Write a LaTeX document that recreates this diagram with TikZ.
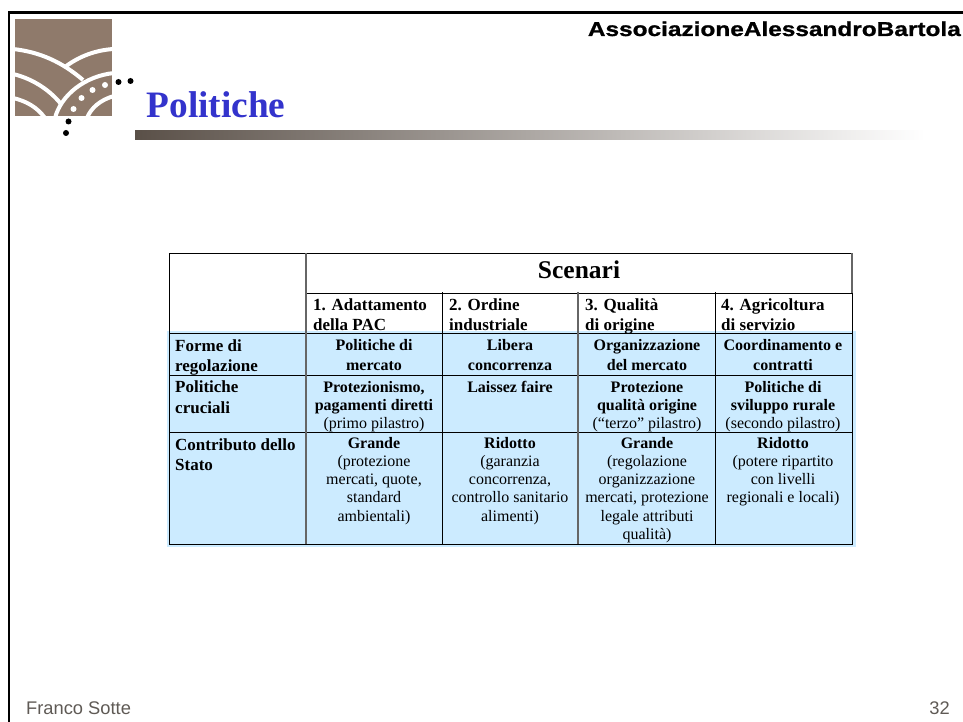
\documentclass[tikz,border=0pt]{standalone}
\usepackage{fontspec}
\setmainfont{Liberation Serif}
\newfontfamily\arialf{Liberation Sans}
\newfontfamily\arialwide[FakeStretch=1.22,FakeBold=1.0]{Liberation Sans Bold}
\definecolor{logo}{HTML}{8F7A6B}
\definecolor{cellblue}{HTML}{CCEBFF}
\definecolor{titleblue}{HTML}{3333CC}
\definecolor{footgray}{HTML}{5F5A55}
\definecolor{barstart}{HTML}{5A5048}
\tikzset{
  x=1pt,y=-1pt,
  gridline/.style={draw=black,line width=1pt},
  gridgray/.style={draw=black!60,line width=1.4pt},
  cellc/.style={anchor=north,align=center,font=\fontsize{16}{18.2}\selectfont,inner sep=0pt},
  cellb/.style={anchor=north,align=center,font=\fontsize{16}{20}\selectfont\bfseries,inner sep=0pt},
  celll/.style={anchor=north west,align=left,font=\fontsize{17}{20}\selectfont\bfseries,inner sep=0pt},
  wave/.style={draw=white,line width=4pt},
  dotk/.style={circle,fill=black,inner sep=0pt,minimum size=6pt},
  dotw/.style={circle,fill=white,inner sep=0pt,minimum size=6pt},
}
\begin{document}
\begin{tikzpicture}
\useasboundingbox (0,0) rectangle (963,722);
\fill[white] (0,0) rectangle (963,722);
% frame
\draw[line width=2.3pt] (9,722) -- (9,12.5) -- (963,12.5);
% logo
\begin{scope}
\clip (15,19) rectangle (112,116);
\fill[logo] (15,19) rectangle (112,116);
\draw[wave] (13,49) .. controls (40,52) and (62,62) .. (83,80);
\draw[wave] (13,74) .. controls (30,78) and (48,88) .. (61,104);
\draw[wave] (13,98) .. controls (26,101) and (37,107) .. (45,118);
\draw[wave] (65,67) .. controls (78,57) and (95,50) .. (114,49);
\draw[wave] (55,118) .. controls (61,95) and (85,76) .. (114,73);
\draw[wave] (87,118) .. controls (91,108) and (100,100) .. (114,96);
\node[dotw] (w1) at (73.5,109) {};
\node[dotw] (w2) at (81.5,98) {};
\node[dotw] (w3) at (92.5,90) {};
\node[dotw] (w4) at (105,85) {};
\end{scope}
\node[dotk] (k1) at (118.5,82) {};
\node[dotk] (k2) at (130.5,81) {};
\node[dotk] (k3) at (68.5,121.5) {};
\node[dotk] (k4) at (66,133) {};
% title
\node[anchor=base west,inner sep=0pt,text=titleblue,font=\fontsize{37.3}{42}\selectfont\bfseries] (title) at (146.5,117.5) {Politiche};
\shade[left color=barstart,right color=white] (135,131) rectangle (925,140);
% header
\node[anchor=base east,inner sep=0pt,font=\arialwide\fontsize{20}{24}\selectfont] (assoc) at (961,36) {AssociazioneAlessandroBartola};
% footer
\node[anchor=base west,inner sep=0pt,font=\arialf\fontsize{18.3}{22}\selectfont,text=footgray] (foot) at (26,714) {Franco Sotte};
\node[anchor=base east,inner sep=0pt,font=\arialf\fontsize{18.3}{22}\selectfont,text=footgray] (num) at (950,714) {32};
% table background
\fill[cellblue] (167,331) rectangle (856,547);
% grid
\draw[gridline] (168.8,253) -- (852,253);
\draw[gridline] (306,293) -- (852,293);
\draw[gridline] (169,333.5) -- (852,333.5);
\draw[gridline] (169,375) -- (852,375);
\draw[gridline] (169,432.5) -- (852,432.5);
\draw[gridline] (168.8,544) -- (852.5,544);
\draw[gridline] (169.3,253) -- (169.3,544);
\draw[gridgray] (306,253) -- (306,544);
\draw[gridline] (442,292) -- (442,544);
\draw[gridgray] (578,292) -- (578,544);
\draw[gridline] (715,292) -- (715,544);
\draw[gridgray] (852,253) -- (852,293);
\draw[gridline] (852,293) -- (852,544);
% header texts
\node[anchor=base,inner sep=0pt,font=\fontsize{25.5}{30}\selectfont\bfseries] (scen) at (579,278.5) {Scenari};
\node[celll] (h1) at (313,298.5) {1. Adattamento\\della PAC};
\node[celll] (h2) at (449,298.5) {2. Ordine\\industriale};
\node[celll] (h3) at (585,298.5) {3. Qualità\\di origine};
\node[celll] (h4) at (721,298.5) {4. Agricoltura\\di servizio};
% row labels
\node[celll] (r1) at (175,339.5) {Forme di\\regolazione};
\node[celll,font=\fontsize{17}{20.5}\selectfont\bfseries] (r2) at (175,381) {Politiche\\cruciali};
\node[celll] (r3) at (175,438.5) {Contributo dello\\Stato};
% row 1
\node[cellb] (a1) at (374,339.5) {Politiche di\\mercato};
\node[cellb] (a2) at (510,339.5) {Libera\\concorrenza};
\node[cellb] (a3) at (647,339.5) {Organizzazione\\del mercato};
\node[cellb] (a4) at (783,339.5) {Coordinamento e\\contratti};
% row 2
\node[cellc] (b1) at (374,381) {\textbf{Protezionismo,}\\\textbf{pagamenti diretti}\\(primo pilastro)};
\node[cellc] (b2) at (510,381) {\textbf{Laissez faire}};
\node[cellc] (b3) at (647,381) {\textbf{Protezione}\\\textbf{qualità origine}\\(“terzo” pilastro)};
\node[cellc] (b4) at (783,381) {\textbf{Politiche di}\\\textbf{sviluppo rurale}\\(secondo pilastro)};
% row 3
\node[cellc] (c1) at (374,437) {\textbf{Grande}\\(protezione\\mercati, quote,\\standard\\ambientali)};
\node[cellc] (c2) at (510,437) {\textbf{Ridotto}\\(garanzia\\concorrenza,\\controllo sanitario\\alimenti)};
\node[cellc] (c3) at (647,437) {\textbf{Grande}\\(regolazione\\organizzazione\\mercati, protezione\\legale attributi\\qualità)};
\node[cellc] (c4) at (783,437) {\textbf{Ridotto}\\(potere ripartito\\con livelli\\regionali e locali)};
\end{tikzpicture}
\end{document}
